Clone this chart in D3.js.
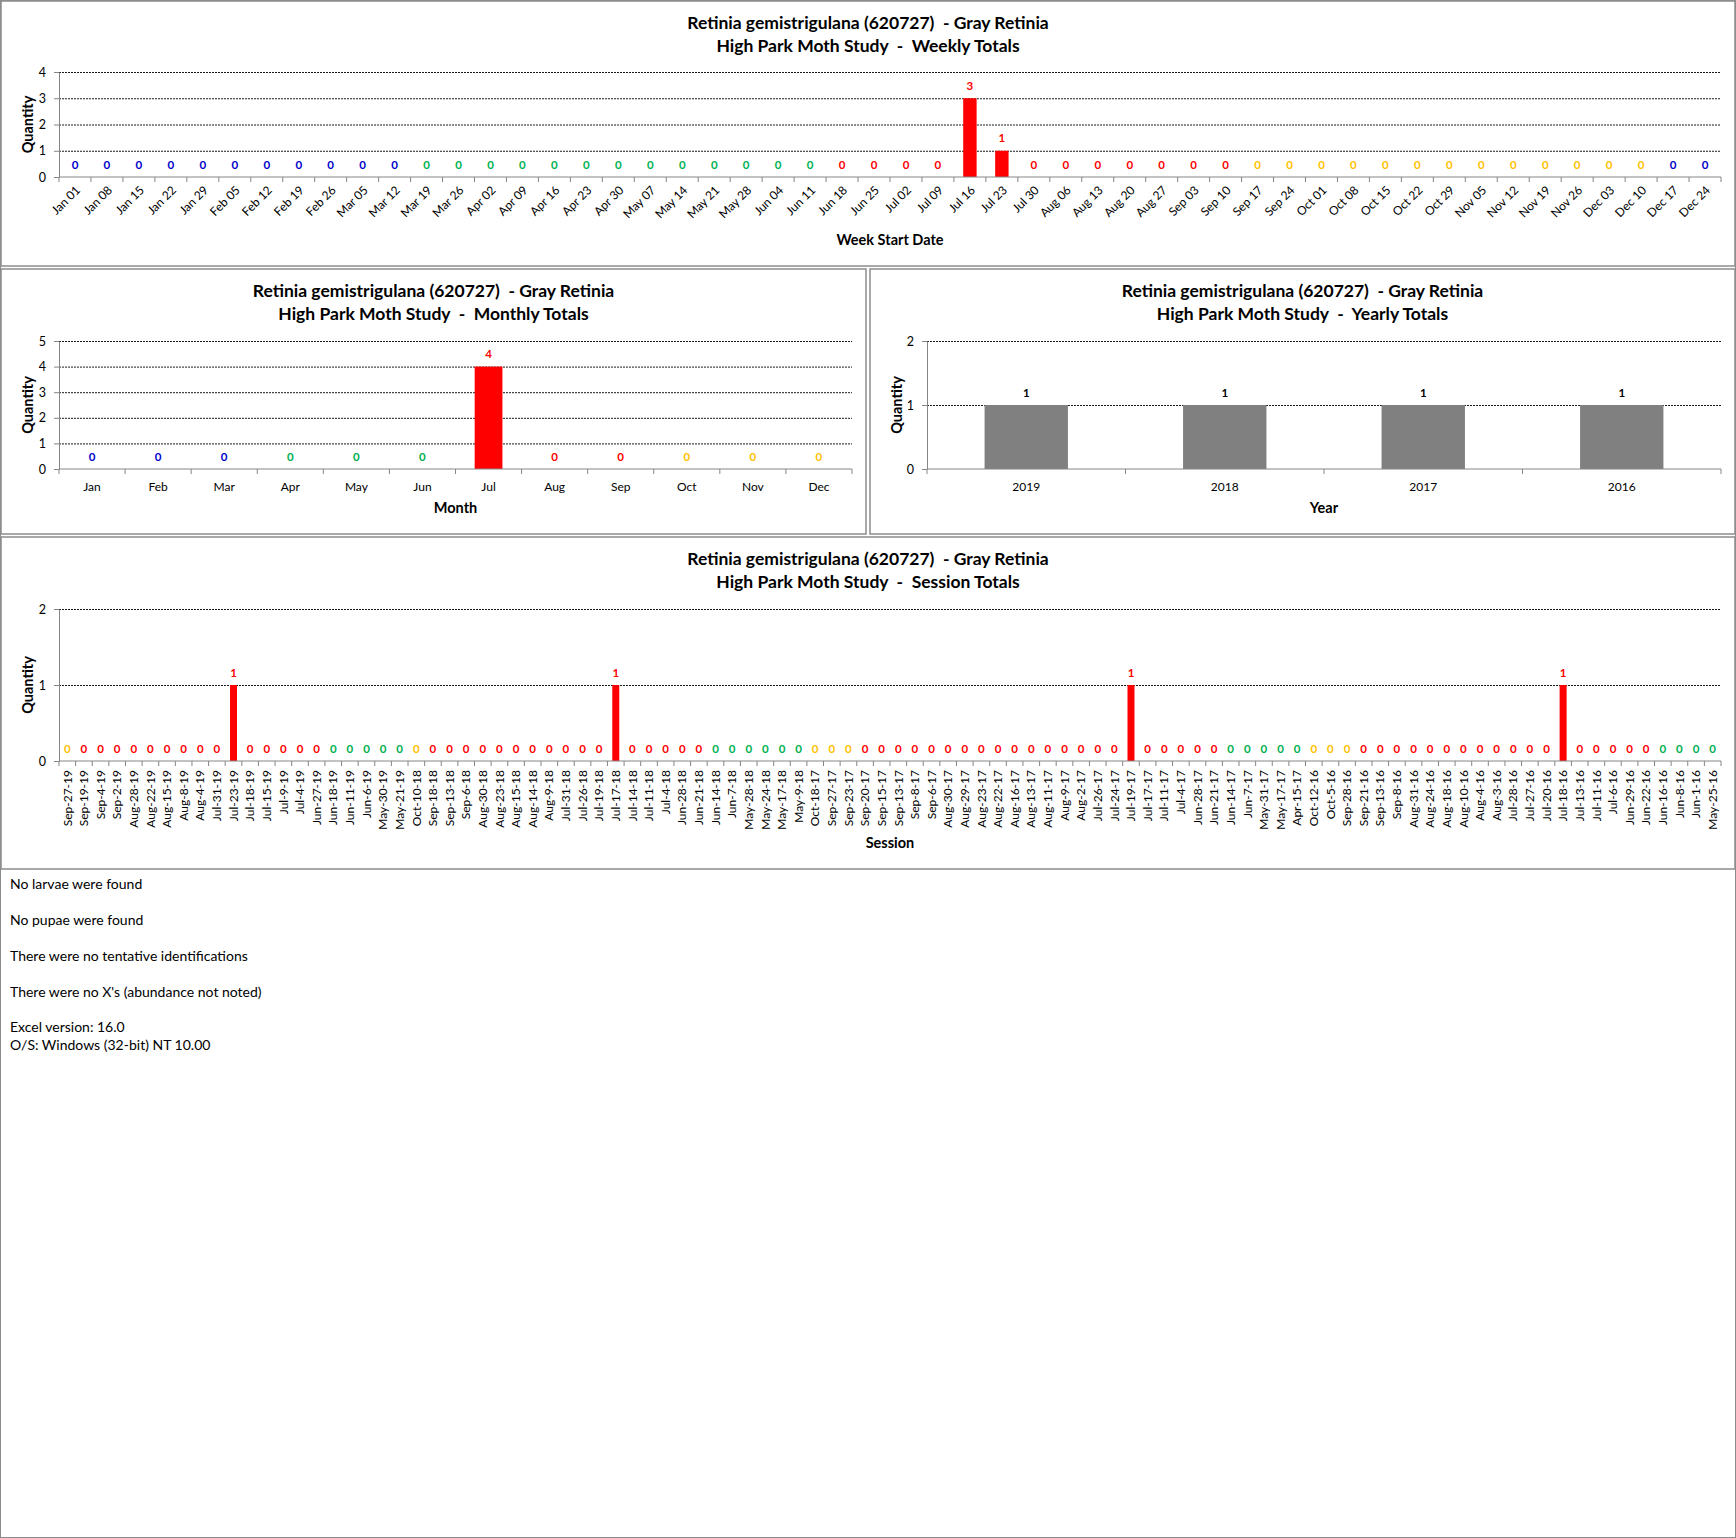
<!DOCTYPE html>
<html lang="en">
<head>
<meta charset="utf-8">
<title>Retinia gemistrigulana - High Park Moth Study</title>
<style>
  body { margin: 0; background: #fff; }
  svg { display: block; font-family: Lato, "Open Sans", sans-serif; }
  .title { font-weight: bold; font-size: 17.5px; fill: #000; white-space: pre; }
  .axis-title { font-weight: bold; font-size: 14.5px; fill: #000; }
  .tick-label { font-size: 12px; fill: #000; }
  .value { font-weight: bold; font-size: 11.5px; }
  .note { font-size: 14px; fill: #000; }
</style>
<script src="https://cdn.jsdelivr.net/npm/d3@7"></script>
</head>
<body>
<svg width="1736" height="1538"></svg>
<script>
const speciesLine = "Retinia gemistrigulana (620727)  - Gray Retinia";

const weekLabels = ["Jan 01","Jan 08","Jan 15","Jan 22","Jan 29","Feb 05","Feb 12","Feb 19","Feb 26",
  "Mar 05","Mar 12","Mar 19","Mar 26","Apr 02","Apr 09","Apr 16","Apr 23","Apr 30","May 07","May 14",
  "May 21","May 28","Jun 04","Jun 11","Jun 18","Jun 25","Jul 02","Jul 09","Jul 16","Jul 23","Jul 30",
  "Aug 06","Aug 13","Aug 20","Aug 27","Sep 03","Sep 10","Sep 17","Sep 24","Oct 01","Oct 08","Oct 15",
  "Oct 22","Oct 29","Nov 05","Nov 12","Nov 19","Nov 26","Dec 03","Dec 10","Dec 17","Dec 24"];
const weekValues = [0,0,0,0,0,0,0,0,0,0,0,0,0,0,0,0,0,0,0,0,0,0,0,0,0,0,0,0,3,1,0,0,0,0,0,0,0,0,0,0,0,0,0,0,0,0,0,0,0,0,0,0];

const monthLabels = ["Jan","Feb","Mar","Apr","May","Jun","Jul","Aug","Sep","Oct","Nov","Dec"];
const monthValues = [0,0,0,0,0,0,4,0,0,0,0,0];

const yearLabels = ["2019","2018","2017","2016"];
const yearValues = [1,1,1,1];

const sessionLabels = ["Sep-27-19","Sep-19-19","Sep-4-19","Sep-2-19","Aug-28-19","Aug-22-19","Aug-15-19",
  "Aug-8-19","Aug-4-19","Jul-31-19","Jul-23-19","Jul-18-19","Jul-15-19","Jul-9-19","Jul-4-19","Jun-27-19",
  "Jun-18-19","Jun-11-19","Jun-6-19","May-30-19","May-21-19","Oct-10-18","Sep-18-18","Sep-13-18","Sep-6-18",
  "Aug-30-18","Aug-23-18","Aug-15-18","Aug-14-18","Aug-9-18","Jul-31-18","Jul-26-18","Jul-19-18","Jul-17-18",
  "Jul-14-18","Jul-11-18","Jul-4-18","Jun-28-18","Jun-21-18","Jun-14-18","Jun-7-18","May-28-18","May-24-18",
  "May-17-18","May-9-18","Oct-18-17","Sep-27-17","Sep-23-17","Sep-20-17","Sep-15-17","Sep-13-17","Sep-8-17",
  "Sep-6-17","Aug-30-17","Aug-29-17","Aug-23-17","Aug-22-17","Aug-16-17","Aug-13-17","Aug-11-17","Aug-9-17",
  "Aug-2-17","Jul-26-17","Jul-24-17","Jul-19-17","Jul-17-17","Jul-11-17","Jul-4-17","Jun-28-17","Jun-21-17",
  "Jun-14-17","Jun-7-17","May-31-17","May-17-17","Apr-15-17","Oct-12-16","Oct-5-16","Sep-28-16","Sep-21-16",
  "Sep-13-16","Sep-8-16","Aug-31-16","Aug-24-16","Aug-18-16","Aug-10-16","Aug-4-16","Aug-3-16","Jul-28-16",
  "Jul-27-16","Jul-20-16","Jul-18-16","Jul-13-16","Jul-11-16","Jul-6-16","Jun-29-16","Jun-22-16","Jun-16-16",
  "Jun-8-16","Jun-1-16","May-25-16"];
const sessionValues = [0,0,0,0,0,0,0,0,0,0,1,0,0,0,0,0,0,0,0,0,0,0,0,0,0,0,0,0,0,0,0,0,0,1,0,0,0,0,0,0,
  0,0,0,0,0,0,0,0,0,0,0,0,0,0,0,0,0,0,0,0,0,0,0,0,1,0,0,0,0,0,0,0,0,0,0,0,0,0,0,0,
  0,0,0,0,0,0,0,0,0,0,1,0,0,0,0,0,0,0,0,0];

const notes = ["No larvae were found", "No pupae were found", "There were no tentative identifications",
  "There were no X's (abundance not noted)", "Excel version: 16.0", "O/S: Windows (32-bit) NT 10.00"];

/* season colours: winter blue, spring green, summer red, autumn yellow */
const seasonColor = { winter: "#0000cc", spring: "#00b050", summer: "#ff0000", autumn: "#ffc000" };
const monthIdx = {Jan:0,Feb:1,Mar:2,Apr:3,May:4,Jun:5,Jul:6,Aug:7,Sep:8,Oct:9,Nov:10,Dec:11};

function season(date) {
  let md = date.getMonth() * 100 + date.getDate();
  if (md >= 1121 || md < 220) return "winter";
  if (md < 521) return "spring";
  if (md < 822) return "summer";
  return "autumn";
}
// a week belongs to the season its last day is in
function weekColor(l) {
  let d = new Date(2018, monthIdx[l.slice(0, 3)], +l.slice(4));
  return seasonColor[season(d3.timeDay.offset(d, 6))];
}
function monthColor(l) { return seasonColor[season(new Date(2018, monthIdx[l], 15))]; }
function sessionColor(l) {
  let p = l.split("-");
  return seasonColor[season(new Date(2000 + +p[2], monthIdx[p[0]], +p[1]))];
}

const svg = d3.select("svg");
svg.append("rect").attr("x", 0.5).attr("y", 0.5).attr("width", 1735).attr("height", 1537)
  .attr("fill", "#fff").attr("stroke", "#8c8c8c");

function chart(c) {
  let g = svg.append("g");
  let [bx, by, bw, bh] = c.box;
  g.append("rect").attr("x", bx + 1).attr("y", by + 1).attr("width", bw - 2).attr("height", bh - 2)
    .attr("fill", "#fff").attr("stroke", "#8c8c8c").attr("stroke-width", 1.5);

  let x = d3.scaleBand().domain(c.labels).range([c.left, c.right]).paddingInner(0.58).paddingOuter(0.29);
  let y = d3.scaleLinear().domain([0, c.yMax]).range([c.bottom, c.top]);
  let data = c.labels.map((l, i) => ({ label: l, value: c.values[i], color: c.color(l) }));

  // gridlines
  g.selectAll(".grid").data(d3.range(1, c.yMax + 1)).join("line")
    .attr("x1", c.left).attr("x2", c.right)
    .attr("y1", d => y(d) + 0.5).attr("y2", d => y(d) + 0.5)
    .attr("stroke", "#000").attr("stroke-width", 0.9).attr("stroke-dasharray", "2,1");

  g.selectAll(".bar").data(data.filter(d => d.value > 0)).join("rect")
    .attr("x", d => x(d.label)).attr("y", d => y(d.value))
    .attr("width", x.bandwidth()).attr("height", d => y(0) - y(d.value))
    .attr("fill", d => c.barFill || d.color);

  g.selectAll(".value").data(data).join("text").attr("class", "value")
    .attr("x", d => x(d.label) + x.bandwidth() / 2).attr("y", d => y(d.value) - 12.5)
    .attr("dy", "0.35em").attr("text-anchor", "middle")
    .attr("fill", d => c.valueFill || d.color).text(d => d.value);

  // y axis
  let ya = g.append("g").attr("transform", `translate(${c.left},0)`)
    .call(d3.axisLeft(y).tickValues(d3.range(0, c.yMax + 1)).tickFormat(d3.format("d"))
      .tickSize(5).tickSizeOuter(0).tickPadding(8));
  ya.select(".domain").attr("stroke", "#868686");
  ya.selectAll(".tick line").attr("stroke", "#868686");
  ya.selectAll(".tick text").attr("font-size", 12.5).attr("font-family", "Lato").attr("fill", "#000");

  // x axis, ticks on the category boundaries
  g.append("line").attr("x1", c.left).attr("x2", c.right).attr("y1", y(0)).attr("y2", y(0))
    .attr("stroke", "#868686");
  let half = x.step() * x.paddingInner() / 2;
  let bounds = c.labels.map(l => x(l) - half).concat([c.right]);
  g.selectAll(".xtick").data(bounds).join("line")
    .attr("x1", d => d).attr("x2", d => d).attr("y1", y(0)).attr("y2", y(0) + 5)
    .attr("stroke", "#868686");

  let tl = g.selectAll(".tick-label").data(c.labels).join("text").attr("class", "tick-label")
    .text(d => d);
  let cx = d => x(d) + x.bandwidth() / 2;
  if (c.rotate === 45) {
    tl.attr("text-anchor", "end").attr("dy", "0.35em")
      .attr("transform", d => `translate(${cx(d) + 3},${y(0) + 11}) rotate(-45)`);
  } else if (c.rotate === 90) {
    tl.attr("text-anchor", "end").attr("dy", "0.35em")
      .attr("transform", d => `translate(${cx(d)},${y(0) + 9}) rotate(-90)`);
  } else {
    tl.attr("text-anchor", "middle").attr("dy", "0.35em").attr("x", cx).attr("y", y(0) + 18);
  }

  // titles
  g.append("text").attr("class", "title").attr("x", bx + bw / 2).attr("y", by + 23)
    .attr("dy", "0.35em").attr("text-anchor", "middle").text(speciesLine);
  g.append("text").attr("class", "title").attr("x", bx + bw / 2).attr("y", by + 46)
    .attr("dy", "0.35em").attr("text-anchor", "middle")
    .text("High Park Moth Study  -  " + c.subtitle);
  g.append("text").attr("class", "axis-title").attr("x", (c.left + c.right) / 2).attr("y", c.xTitleY)
    .attr("dy", "0.35em").attr("text-anchor", "middle").text(c.xTitle);
  g.append("text").attr("class", "axis-title").attr("text-anchor", "middle").attr("dy", "0.35em")
    .attr("transform", `translate(${bx + 28},${(c.top + c.bottom) / 2}) rotate(-90)`).text("Quantity");
}

chart({ box: [0, 0, 1736, 267], left: 59, right: 1721, top: 72, bottom: 177, yMax: 4,
  labels: weekLabels, values: weekValues, color: weekColor, rotate: 45,
  subtitle: "Weekly Totals", xTitle: "Week Start Date", xTitleY: 240 });

chart({ box: [0, 268, 867, 267], left: 59, right: 852, top: 341, bottom: 469, yMax: 5,
  labels: monthLabels, values: monthValues, color: monthColor,
  subtitle: "Monthly Totals", xTitle: "Month", xTitleY: 508 });

chart({ box: [869, 268, 867, 267], left: 927, right: 1721, top: 341, bottom: 469, yMax: 2,
  labels: yearLabels, values: yearValues, color: () => "#000", barFill: "#808080", valueFill: "#000",
  subtitle: "Yearly Totals", xTitle: "Year", xTitleY: 508 });

chart({ box: [0, 536, 1736, 334], left: 59, right: 1721, top: 609, bottom: 761, yMax: 2,
  labels: sessionLabels, values: sessionValues, color: sessionColor, rotate: 90,
  subtitle: "Session Totals", xTitle: "Session", xTitleY: 843 });

svg.selectAll(".note").data(notes).join("text").attr("class", "note")
  .attr("x", 10).attr("y", (d, i) => i < 4 ? 884 + i * 36 : 1027 + (i - 4) * 18)
  .attr("dy", "0.35em").text(d => d);
</script>
</body>
</html>
